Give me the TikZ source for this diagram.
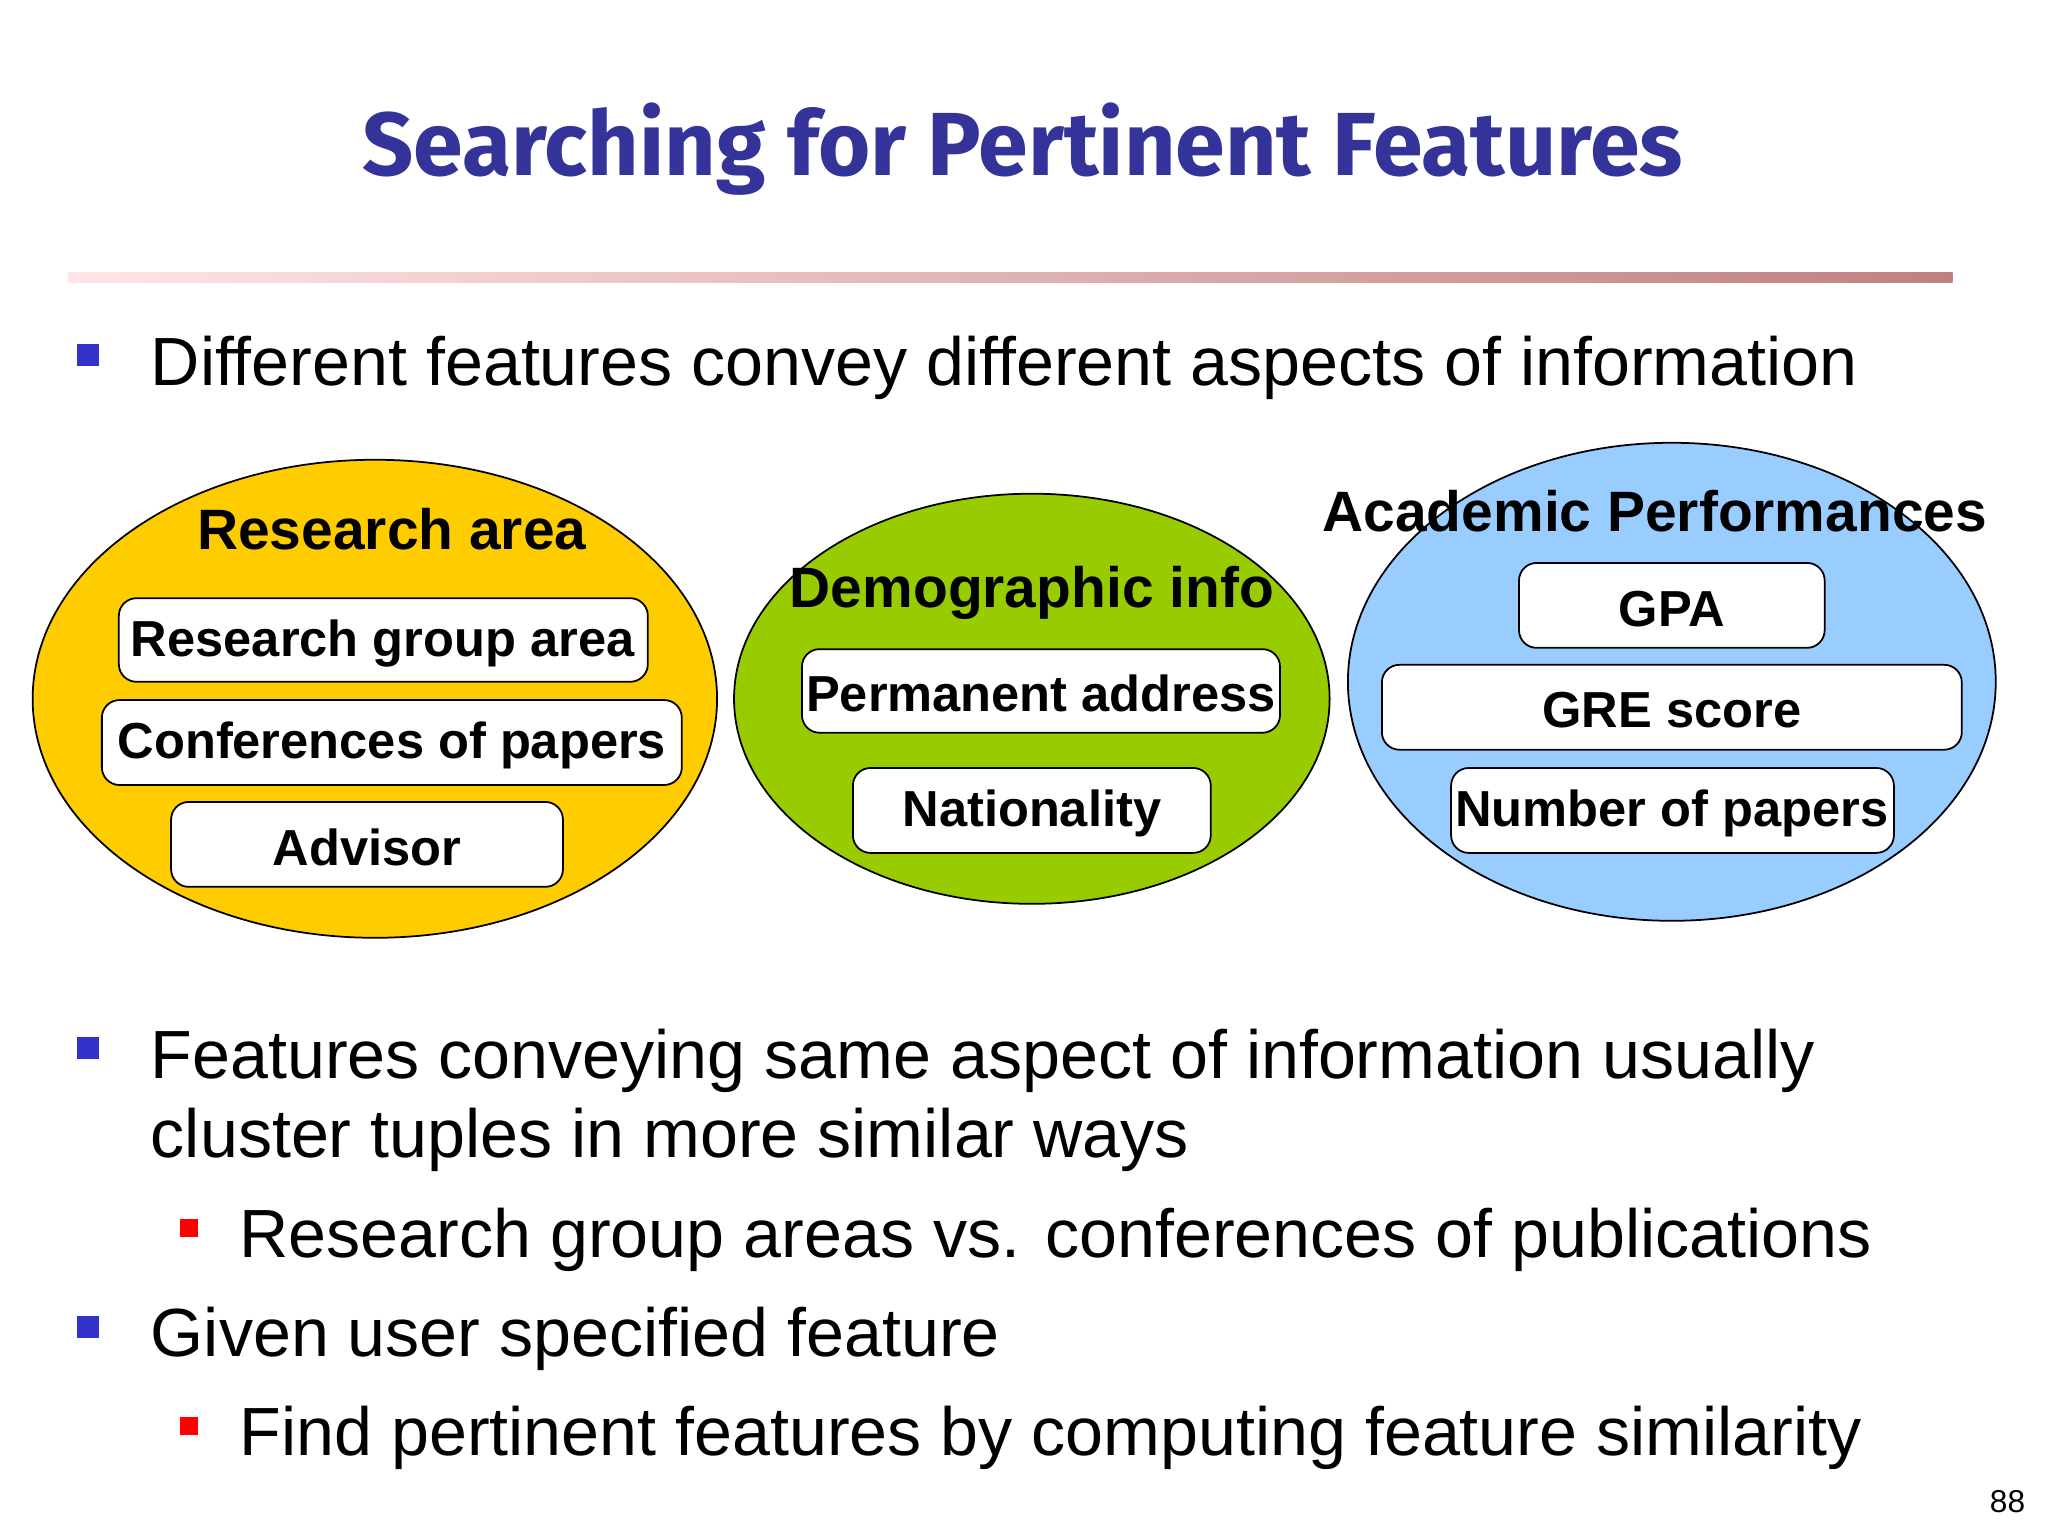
\documentclass[tikz,border=0pt]{standalone}
\usepackage{fontspec}
\setmainfont{Liberation Sans}
\newfontfamily\titlefont{Fira Sans}
\usetikzlibrary{shapes.geometric}
\definecolor{ttl}{HTML}{333399}
\definecolor{yel}{HTML}{FFCC00}
\definecolor{grn}{HTML}{99CC00}
\definecolor{blu}{HTML}{99CCFF}
\definecolor{bblue}{HTML}{3333CC}
\begin{document}
\begin{tikzpicture}[x=0.01306cm,y=-0.01306cm,
  ell/.style={ellipse,draw=black,line width=0.5pt},
  fbox/.style={draw=black,fill=white,rounded corners=5pt,line width=0.5pt},
  blab/.style={font=\fontsize{14.4}{17}\selectfont\bfseries},
  elab/.style={font=\fontsize{16.2}{19}\selectfont\bfseries},
  btxt/.style={anchor=west,font=\fontsize{19.4}{23}\selectfont,inner sep=0pt},
  sq/.style={minimum size=0.22cm,inner sep=0pt}]
\useasboundingbox (0,0) rectangle (1568,1176);
\fill[white] (0,0) rectangle (1568,1176);
\node[font=\titlefont\fontsize{25.5}{30}\selectfont\bfseries,text=ttl] (title) at (783,114) {Searching for Pertinent Features};
\shade[left color=pink!40,right color={rgb,255:red,192;green,128;blue,128}] (52,209) rectangle (1495,216);
% bullets
\node[sq,fill=bblue] (b1) at (67,272) {};
\node[btxt] (t1) at (115,282) {Different features convey different aspects of information};
% ellipses
\draw[ell,fill=yel] (287,535) ellipse [x radius=262,y radius=183];
\draw[ell,fill=grn] (790,535) ellipse [x radius=228,y radius=157];
\draw[ell,fill=blu] (1280,522) ellipse [x radius=248,y radius=183];
\node[elab] (l1) at (300,405) {Research area};
\node[elab] (l2) at (790,454) {Demographic info};
\node[elab] (l3) at (1267,391) {Academic Performances};
\draw[fbox] (91,458) rectangle (496,522); \node[blab] (r1) at (293,493) {Research group area};
\draw[fbox] (78,536) rectangle (522,601); \node[blab] (r2) at (300,571) {Conferences of papers};
\draw[fbox] (131,614) rectangle (431,679); \node[blab] (r3) at (281,649) {Advisor};
\draw[fbox] (614,497) rectangle (980,561); \node[blab] (d1) at (797,531) {Permanent address};
\draw[fbox] (653,588) rectangle (927,653); \node[blab] (d2) at (790,623) {Nationality};
\draw[fbox] (1163,431) rectangle (1397,496); \node[blab] (a1) at (1280,466) {GPA};
\draw[fbox] (1058,509) rectangle (1502,574); \node[blab] (a2) at (1280,544) {GRE score};
\draw[fbox] (1111,588) rectangle (1450,653); \node[blab] (a3) at (1280,623) {Number of papers};
% lower bullets
\node[sq,fill=bblue] (b2) at (67,802) {};
\node[btxt] (t2) at (115,812) {Features conveying same aspect of information usually};
\node[btxt] (t2b) at (115,873) {cluster tuples in more similar ways};
\node[sq,fill=red,minimum size=0.18cm] (b3) at (145,940) {};
\node[btxt] (t3) at (183,949) {Research group areas vs. conferences of publications};
\node[sq,fill=bblue] (b4) at (67,1016) {};
\node[btxt] (t4) at (115,1025) {Given user specified feature};
\node[sq,fill=red,minimum size=0.18cm] (b5) at (145,1092) {};
\node[btxt] (t5) at (183,1101) {Find pertinent features by computing feature similarity};
\node[font=\fontsize{9}{10}\selectfont] (pg) at (1537,1150) {88};
\end{tikzpicture}
\end{document}
